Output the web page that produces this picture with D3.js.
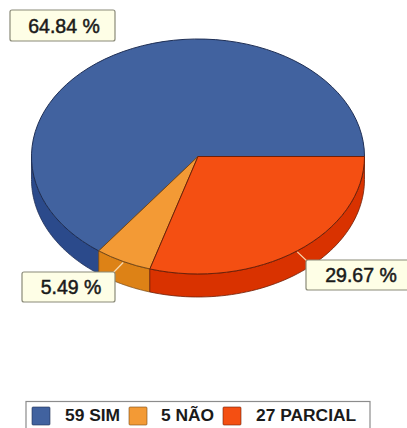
<!DOCTYPE html>
<html><head><meta charset="utf-8">
<script src="https://cdn.jsdelivr.net/npm/d3@7/dist/d3.min.js"></script>
<style>html,body{margin:0;padding:0;background:#fff;overflow:hidden}svg{display:block}text{font-family:"Liberation Sans",Arial,sans-serif;fill:#1a1a1a}</style>
</head><body><svg id="c" width="407" height="428"></svg>
<script>
const categories = ["SIM", "NÃO", "PARCIAL"];
const counts = [59, 5, 27];
const percents = ["64.84 %", "5.49 %", "29.67 %"];
const topColors = ["#41629f", "#f39a35", "#f44f12"];
const sideColors = ["#2b4a8b", "#dd8216", "#d93200"];
const strokeColors = ["#1f2f55", "#7a4a15", "#6e2008"];

const cx = 198, cy = 156.5, rx = 166.5, ry = 117.5, depth = 23;
const svg = d3.select("#c");
const x = d3.scaleLinear().domain([-1, 1]).range([cx - rx, cx + rx]);
const y = d3.scaleLinear().domain([-1, 1]).range([cy - ry, cy + ry]);

// drawing order starts at 3 o'clock going clockwise: PARCIAL, NÃO, SIM
const order = [2, 1, 0];
const pie = d3.pie().sort((a, b) => order.indexOf(a) - order.indexOf(b)).value(i => counts[i])
  .startAngle(Math.PI / 2).endAngle(Math.PI / 2 + 2 * Math.PI);
const slices = pie(d3.range(categories.length));

const px = a => x(Math.sin(a)), py = a => y(-Math.cos(a));
const line = d3.line();
function wall(a0, a1) {
  const n = 60, top = d3.range(n + 1).map(k => { const a = a0 + (a1 - a0) * k / n; return [px(a), py(a)]; });
  const bot = top.slice().reverse().map(p => [p[0], p[1] + depth]);
  return line(top.concat(bot)) + "Z";
}
// side walls: only the front half of the rim shows
slices.forEach(s => {
  const a0 = Math.max(s.startAngle, Math.PI / 2), a1 = Math.min(s.endAngle, 3 * Math.PI / 2);
  if (a1 <= a0) return;
  svg.append("path").attr("d", wall(a0, a1)).attr("fill", sideColors[s.data])
    .attr("stroke", strokeColors[s.data]).attr("stroke-width", 0.8).attr("stroke-linejoin", "round");
});
// top face
const arc = d3.arc().innerRadius(0).outerRadius(1);
const g = svg.append("g").attr("transform", `translate(${x(0)},${y(0)}) scale(${rx},${ry})`);
g.selectAll("path").data(slices).join("path").attr("d", arc)
  .attr("fill", d => topColors[d.data]).attr("stroke", d => strokeColors[d.data])
  .attr("stroke-width", 1).attr("vector-effect", "non-scaling-stroke");

// label callouts, anchored on each slice's rim midpoint
const labelBoxes = [
  { i: 0, x: 10, y: 10, w: 105, h: 31, tx: 64 },
  { i: 1, x: 22, y: 272, w: 93, h: 30, tx: 71 },
  { i: 2, x: 306, y: 260, w: 110, h: 30, tx: 361 }
];
labelBoxes.forEach(b => {
  const s = slices.find(d => d.data === b.i);
  if (b.i !== 0) {
    const m = (s.startAngle + s.endAngle) / 2;
    svg.append("line").attr("x1", px(m)).attr("y1", py(m) + 1)
      .attr("x2", b.i === 1 ? b.x + b.w - 3 : b.x + 2).attr("y2", b.y + 2)
      .attr("stroke", "#f7d9b0").attr("stroke-width", 1.2);
  }
  svg.append("rect").attr("x", b.x).attr("y", b.y).attr("width", b.w).attr("height", b.h).attr("rx", 2)
    .attr("fill", "#fefee6").attr("stroke", "#8a8a78").attr("stroke-width", 1.2);
  svg.append("text").attr("x", b.tx).attr("y", b.y + b.h / 2 + 7)
    .attr("text-anchor", "middle").attr("font-size", 19.5).attr("font-weight", 400)
    .attr("stroke", "#1a1a1a").attr("stroke-width", 0.5).text(percents[b.i]);
});

// legend
svg.append("rect").attr("x", 26).attr("y", 401.5).attr("width", 344).attr("height", 30)
  .attr("fill", "#fff").attr("stroke", "#8c8c8c").attr("stroke-width", 1.2);
const swatchX = [32, 129, 223], textX = [65, 161, 256];
categories.forEach((c, i) => {
  svg.append("rect").attr("x", swatchX[i]).attr("y", 407).attr("width", 18).attr("height", 18).attr("rx", 1)
    .attr("fill", topColors[i]).attr("stroke", strokeColors[i]).attr("stroke-opacity", 0.6);
  svg.append("text").attr("x", textX[i]).attr("y", 421).attr("font-size", 17.4).attr("font-weight", 700)
    .text(`${counts[i]} ${c}`);
});
</script></body></html>
